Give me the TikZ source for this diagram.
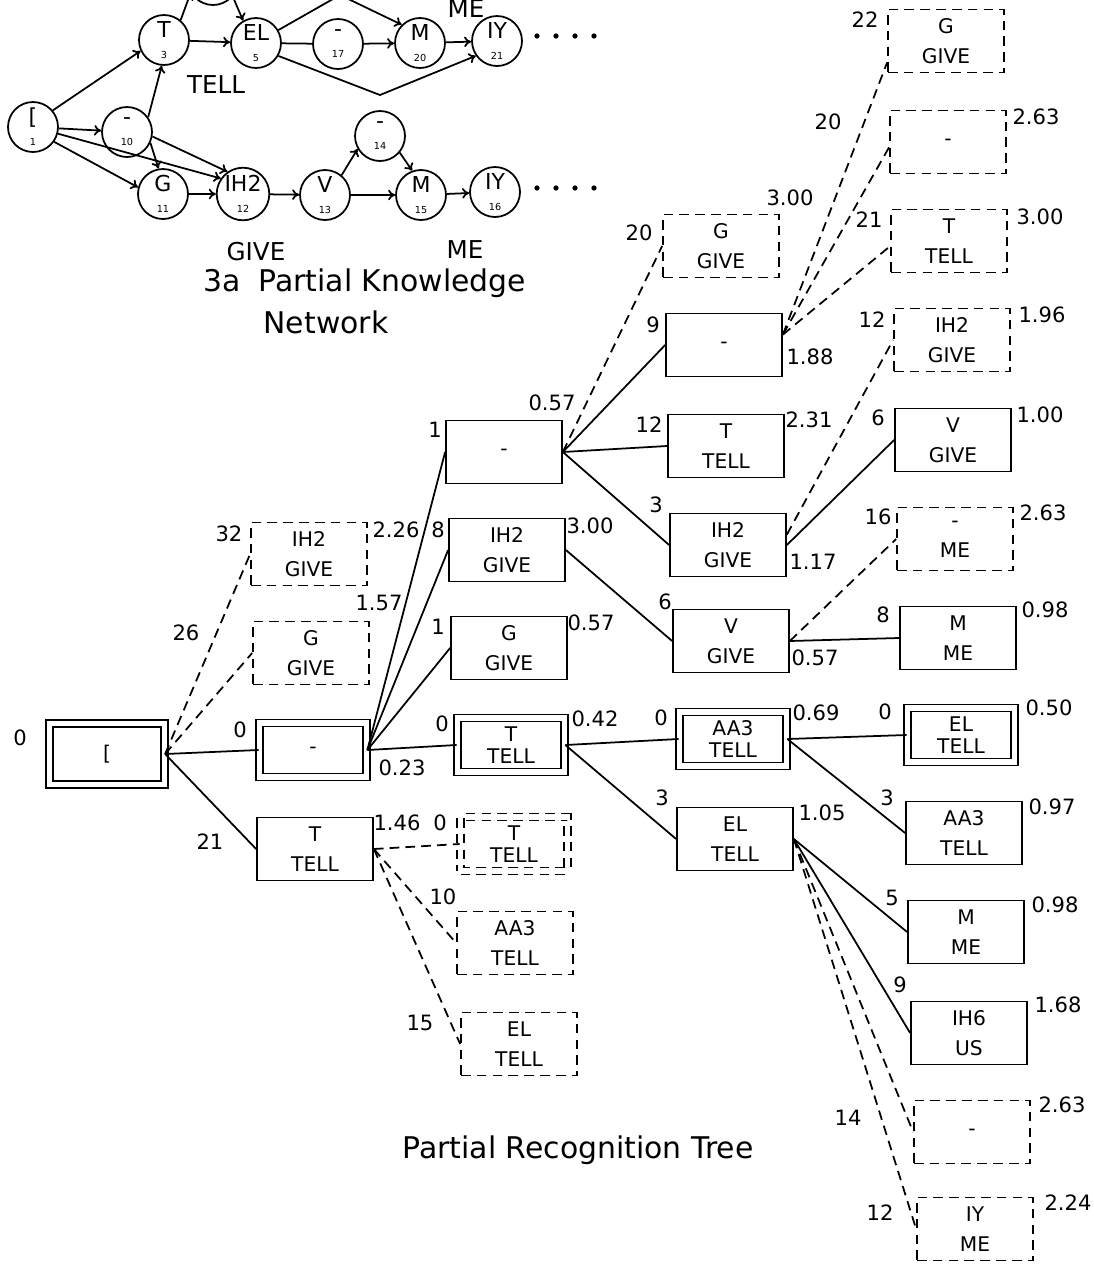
\documentclass[tikz,border=0pt]{standalone}
\usepackage{fontspec}
\setmainfont{DejaVu Sans}
\usetikzlibrary{positioning,calc,arrows.meta}

\newcommand\stnum[1]{{\fontsize{5.5}{5.5}\selectfont #1}}

\tikzset{
  unit/.style={draw, line width=1pt, inner sep=0pt, align=center,
    minimum width=2.32cm, minimum height=1.26cm,
    font=\fontsize{11.5}{17}\selectfont},
  unitcut/.style={unit, dash pattern=on 5.5pt off 3.5pt},
  unitbest/.style={unit, double, double distance=3pt,
    minimum width=2.14cm, minimum height=1.08cm,
    font=\fontsize{11.5}{12.5}\selectfont},
  unitbestcut/.style={unitbest, dash pattern=on 5.5pt off 3.5pt},
  score/.style={font=\fontsize{12}{12}\selectfont, inner sep=0pt},
  branch/.style={line width=1pt},
  branchcut/.style={line width=1pt, dash pattern=on 5.5pt off 3.5pt},
  state/.style={draw, circle, line width=1pt, minimum size=1.0cm,
    inner sep=0pt, align=center, font=\fontsize{12.5}{12}\selectfont},
  trans/.style={line width=1pt, -{To[length=4pt,width=6pt]}},
  word/.style={font=\fontsize{14}{14}\selectfont, inner sep=0pt},
  caption/.style={font=\fontsize{17}{20}\selectfont, inner sep=0pt, align=center},
}

\begin{document}
\begin{tikzpicture}[x=0.02cm, y=-0.02cm]
\useasboundingbox (0,0) rectangle (1093,1265);
\clip (0,0) rectangle (1093,1265);

%% --- KNOWLEDGE NETWORK: states ---
\node[state] (n1)  at (33,127)  {[\\\stnum{1}};
\node[state] (n10) at (127,132) {-\\\stnum{10}};
\node[state] (n3)  at (164,40)  {T\\\stnum{3}};
\node[state] (n2)  at (213,-20) {};
\node[state] (n5)  at (256,43)  {EL\\\stnum{5}};
\node[state] (n17) at (338,44)  {-\\\stnum{17}};
\node[state] (n20) at (420,43)  {M\\\stnum{20}};
\node[state] (n21) at (497,41)  {IY\\\stnum{21}};
\node[state] (n11) at (163,194) {G\\\stnum{11}};
\node[state] (n12) at (243,194) {IH2\\\stnum{12}};
\node[state] (n13) at (325,195) {V\\\stnum{13}};
\node[state] (n14) at (380,136) {-\\\stnum{14}};
\node[state] (n15) at (421,195) {M\\\stnum{15}};
\node[state] (n16) at (495,192) {IY\\\stnum{16}};
\coordinate (b1) at (340,-5);
\coordinate (b2) at (380,95);

%% --- KNOWLEDGE NETWORK: transitions ---
\draw[trans] (n1) -- (n10);
\draw[trans] (n1.40) -- (n3.205);
\draw[trans] (n1.-35) -- (n11.165);
\draw[trans] (n1.-15) -- (n12.145);
\draw[trans] (n10.35) -- (n3.-95);
\draw[trans] (n10.-25) -- (n11.100);
\draw[trans] (n10.-10) -- (n12.125);
\draw[trans] (n3.50) -- (n2.210);
\draw[trans] (n2.-40) -- (n5.120);
\draw[trans] (n3) -- (n5);
\draw[branch] (n5) -- (n17);
\draw[trans] (n17) -- (n20);
\draw[trans] (n20) -- (n21);
\draw[trans] (n5.30) -- (b1) -- (n20.135);
\draw[trans] (n5.-30) -- (b2) -- (n21.-145);
\draw[trans] (n11) -- (n12);
\draw[trans] (n12) -- (n13);
\draw[trans] (n13.50) -- (n14.-150);
\draw[trans] (n14.-40) -- (n15.110);
\draw[trans] (n13) -- (n15);
\draw[trans] (n15) -- (n16);
\foreach \d in {0,...,3} {
  \fill (537+19*\d,36) circle (1.5pt);
  \fill (537+19*\d,188) circle (1.5pt);
}

%% --- KNOWLEDGE NETWORK: words, caption ---
\node[word] (wME0)  at (466,9)   {ME};
\node[word] (wTELL) at (216,85)  {TELL};
\node[word] (wGIVE) at (256,252) {GIVE};
\node[word] (wME)   at (465,250) {ME};
\node[caption, anchor=west] (capA) at (203,283) {3a\hspace{0.6em}Partial Knowledge};
\node[caption] (capB) at (326,322) {Network};

%% --- RECOGNITION TREE: columns 0 and 1 ---
\node[unitbest, minimum width=2.29cm, minimum height=1.21cm] (root) at (107,754) {[};
\node[unitcut]  (i1) at (309,554) {IH2\\GIVE};
\node[unitcut]  (g1) at (311,653) {G\\GIVE};
\node[unitbest] (s1) at (313,750) {-};
\node[unit]     (t1) at (315,849) {T\\TELL};
% column 2
\node[unit]        (s2)  at (504,452)  {-};
\node[unit]        (i2)  at (507,550)  {IH2\\GIVE};
\node[unit]        (g2)  at (509,648)  {G\\GIVE};
\node[unitbest]    (t2)  at (511,745)  {T\\TELL};
\node[unitbestcut] (t2x) at (514,844)  {T\\TELL};
\node[unitcut]     (a2x) at (515,943)  {AA3\\TELL};
\node[unitcut]     (e2x) at (519,1044) {EL\\TELL};
% column 3
\node[unitcut]  (g3x) at (721,246) {G\\GIVE};
\node[unit]     (s3)  at (724,345) {-};
\node[unit]     (t3)  at (726,446) {T\\TELL};
\node[unit]     (i3)  at (728,545) {IH2\\GIVE};
\node[unit]     (v3)  at (731,641) {V\\GIVE};
\node[unitbest] (a3)  at (733,739) {AA3\\TELL};
\node[unit]     (e3)  at (735,839) {EL\\TELL};
% column 4
\node[unitcut]  (g4x) at (946,41)   {G\\GIVE};
\node[unitcut]  (s4x) at (948,142)  {-};
\node[unitcut]  (t4x) at (949,241)  {T\\TELL};
\node[unitcut]  (i4x) at (952,340)  {IH2\\GIVE};
\node[unit]     (v4)  at (953,440)  {V\\GIVE};
\node[unitcut]  (m4x) at (955,539)  {-\\ME};
\node[unit]     (m4)  at (958,638)  {M\\ME};
\node[unitbest] (e4)  at (961,735)  {EL\\TELL};
\node[unit]     (a4)  at (964,833)  {AA3\\TELL};
\node[unit]     (m5)  at (966,932)  {M\\ME};
\node[unit]     (h4)  at (969,1033) {IH6\\US};
\node[unitcut]  (s5x) at (972,1132) {-};
\node[unitcut]  (y4x) at (975,1229) {IY\\ME};

%% --- RECOGNITION TREE: branches ---
\draw[branch]    (root.east) -- (s1.west);
\draw[branch]    (root.east) -- (t1.west);
\draw[branchcut] (root.east) -- (i1.west);
\draw[branchcut] (root.east) -- (g1.west);
\draw[branch]    (s1.east) -- (s2.west);
\draw[branch]    (s1.east) -- (i2.west);
\draw[branch]    (s1.east) -- (g2.west);
\draw[branch]    (s1.east) -- (t2.west);
\draw[branchcut] (t1.east) -- (t2x.west);
\draw[branchcut] (t1.east) -- (a2x.west);
\draw[branchcut] (t1.east) -- (e2x.west);
\draw[branchcut] (s2.east) -- (g3x.west);
\draw[branch]    (s2.east) -- (s3.west);
\draw[branch]    (s2.east) -- (t3.west);
\draw[branch]    (s2.east) -- (i3.west);
\draw[branch]    (i2.east) -- (v3.west);
\draw[branch]    (t2.east) -- (a3.west);
\draw[branch]    (t2.east) -- (e3.west);
\draw[branchcut] (s3.10) -- (g4x.200);
\draw[branchcut] (s3.10) -- (s4x.185);
\draw[branchcut] (s3.10) -- (t4x.185);
\draw[branchcut] (i3.10) -- (i4x.west);
\draw[branch]    (i3.east) -- (v4.west);
\draw[branchcut] (v3.east) -- (m4x.west);
\draw[branch]    (v3.east) -- (m4.west);
\draw[branch]    (a3.east) -- (e4.west);
\draw[branch]    (a3.east) -- (a4.west);
\draw[branch]    (e3.east) -- (m5.west);
\draw[branch]    (e3.east) -- (h4.west);
\draw[branchcut] (e3.east) -- (s5x.west);
\draw[branchcut] (e3.east) -- (y4x.west);

%% --- RECOGNITION TREE: scores ---
\foreach \x/\y/\t [count=\k] in {
  20/738/0, 229/534/32, 396/530/2.26, 186/633/26, 379/603/1.57,
  240/730/0, 402/768/0.23, 210/842/21, 397/823/1.46,
  435/430/1, 552/403/0.57, 438/530/8, 590/526/3.00,
  438/627/1, 591/623/0.57, 442/724/0, 595/719/0.42,
  440/823/0, 443/897/10, 420/1023/15,
  639/233/20, 790/198/3.00, 653/325/9, 810/357/1.88,
  649/425/12, 809/420/2.31, 656/505/3, 813/562/1.17,
  665/602/6, 815/658/0.57, 661/718/0, 816/713/0.69,
  662/798/3, 822/813/1.05,
  865/20/22, 828/122/20, 1036/117/2.63, 869/220/21, 1040/217/3.00,
  872/320/12, 1042/315/1.96, 878/418/6, 1040/415/1.00,
  878/517/16, 1043/513/2.63, 883/615/8, 1045/610/0.98,
  885/712/0, 1049/708/0.50, 887/798/3, 1052/807/0.97,
  892/898/5, 1055/905/0.98, 900/985/9, 1058/1005/1.68,
  848/1118/14, 1062/1105/2.63, 880/1213/12, 1068/1203/2.24}
  \node[score] (sc\k) at (\x,\y) {\t};

\node[caption] (capC) at (578,1150) {Partial Recognition Tree};

\end{tikzpicture}
\end{document}
